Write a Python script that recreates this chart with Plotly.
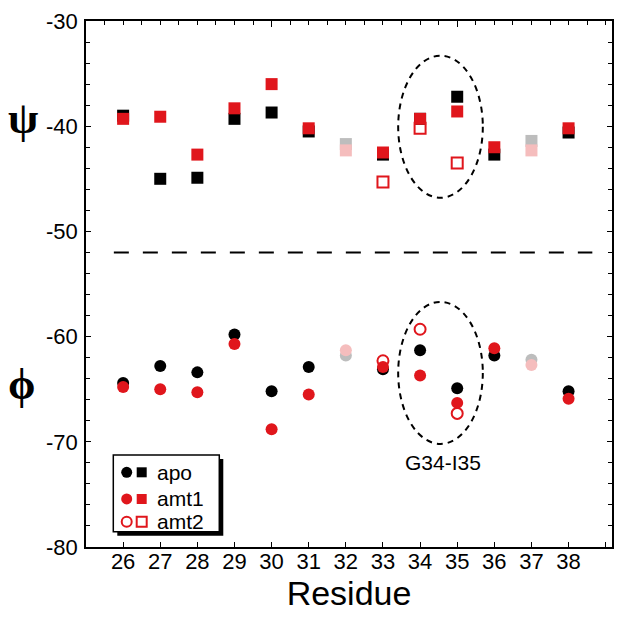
import plotly.graph_objects as go

# ---------------- data ----------------
residues = [26, 27, 28, 29, 30, 31, 32, 33, 34, 35, 36, 37, 38]
light_residues = [32, 37]

psi_apo = [-39.0, -45.0, -44.9, -39.3, -38.7, -40.5, -41.7, -42.7, -39.3, -37.2, -42.7, -41.4, -40.6]
psi_amt1 = [-39.3, -39.1, -42.7, -38.3, -36.0, -40.2, -42.3, -42.5, -39.3, -38.6, -42.0, -42.3, -40.2]
amt2_residues = [33, 34, 35]
psi_amt2 = [-45.3, -40.2, -43.5]

phi_apo = [-64.4, -62.8, -63.4, -59.8, -65.2, -62.9, -61.8, -63.1, -61.3, -64.9, -61.8, -62.2, -65.2]
phi_amt1 = [-64.8, -65.0, -65.3, -60.7, -68.8, -65.5, -61.3, -62.9, -63.7, -66.3, -61.1, -62.7, -65.9]
phi_amt2 = [-62.3, -59.3, -67.3]

x_tick_vals = list(range(26, 40))
x_tick_text = [str(v) if v <= 38 else "" for v in x_tick_vals]
y_tick_vals = [-80, -70, -60, -50, -40, -30]
y_tick_text = ["-80", "-70", "-60", "-50", "-40", "-30"]
legend_labels = ["apo", "amt1", "amt2"]
separator_y = -52
region_label = "G34-I35"

# ---------------- style ----------------
FONT = "Liberation Sans"
BLACK = "#000000"
RED = "#E0161C"
PINK = "#F5BDBD"
GRAY = "#BDBDBD"

def colors(base, light):
    return [light if r in light_residues else base for r in residues]

fig = go.Figure()

MS = 12
# psi (squares)
fig.add_trace(go.Scatter(x=residues, y=psi_apo, mode="markers",
                         marker=dict(symbol="square", size=MS, color=colors(BLACK, GRAY)), showlegend=False))
fig.add_trace(go.Scatter(x=residues, y=psi_amt1, mode="markers",
                         marker=dict(symbol="square", size=MS, color=colors(RED, PINK)), showlegend=False))
fig.add_trace(go.Scatter(x=amt2_residues, y=psi_amt2, mode="markers",
                         marker=dict(symbol="square-open", size=MS - 1, color=RED, line=dict(width=2, color=RED)),
                         showlegend=False))
# phi (circles)
fig.add_trace(go.Scatter(x=residues, y=phi_apo, mode="markers",
                         marker=dict(symbol="circle", size=MS, color=colors(BLACK, GRAY)), showlegend=False))
fig.add_trace(go.Scatter(x=residues, y=phi_amt1, mode="markers",
                         marker=dict(symbol="circle", size=MS, color=colors(RED, PINK)), showlegend=False))
fig.add_trace(go.Scatter(x=amt2_residues, y=phi_amt2, mode="markers",
                         marker=dict(symbol="circle-open", size=MS - 1, color=RED, line=dict(width=2, color=RED)),
                         showlegend=False))

# dummy trace to create top axis subplot
fig.add_trace(go.Scatter(x=[None], y=[None], xaxis="x2", yaxis="y", showlegend=False, hoverinfo="skip"))

# custom legend markers on an overlay axis in paper-like units
leg_rows = [0.142, 0.0913, 0.0481]
leg_circle_x = 0.0774
leg_square_x = 0.1059
leg_text_x = 0.131
leg_styles = [
    (BLACK, "circle", "square"),
    (RED, "circle", "square"),
    (RED, "circle-open", "square-open"),
]
for (col, cs, ss), yy in zip(leg_styles, leg_rows):
    lw = 2 if "open" in cs else 0
    fig.add_trace(go.Scatter(x=[leg_circle_x], y=[yy], xaxis="x3", yaxis="y3", mode="markers",
                             marker=dict(symbol=cs, size=11 if lw == 0 else 10, color=col, line=dict(width=lw, color=col)),
                             showlegend=False, hoverinfo="skip"))
    fig.add_trace(go.Scatter(x=[leg_square_x], y=[yy], xaxis="x3", yaxis="y3", mode="markers",
                             marker=dict(symbol=ss, size=10, color=col, line=dict(width=lw, color=col)),
                             showlegend=False, hoverinfo="skip"))

annotations = []
for lab, yy in zip(legend_labels, leg_rows):
    annotations.append(dict(x=leg_text_x, y=yy, xref="paper", yref="paper", text=lab, showarrow=False,
                            xanchor="left", yanchor="middle", font=dict(family=FONT, size=21, color="black")))
annotations.append(dict(x=34.62, y=-72.0, xref="x", yref="y", text=region_label, showarrow=False,
                        font=dict(family=FONT, size=21, color="black")))
annotations.append(dict(x=-0.12, y=-39.3, xref="paper", yref="y", text="<b>ψ</b>", showarrow=False,
                        xanchor="center", yanchor="middle",
                        font=dict(family="Liberation Serif", size=44, color="black")))
annotations.append(dict(x=-0.122, y=-64.6, xref="paper", yref="y", text="<b>ϕ</b>", showarrow=False,
                        xanchor="center", yanchor="middle",
                        font=dict(family="Liberation Serif", size=44, color="black")))

shapes = [
    # separator dashed line
    dict(type="line", xref="x", yref="y", x0=25.75, x1=38.64, y0=separator_y, y1=separator_y,
         line=dict(color="black", width=2, dash="15px,14px")),
    # ellipses
    dict(type="circle", xref="x", yref="y", x0=33.41, x1=35.69, y0=-46.8, y1=-33.3,
         line=dict(color="black", width=2, dash="6px,5px")),
    dict(type="circle", xref="x", yref="y", x0=33.41, x1=35.69, y0=-70.2, y1=-56.7,
         line=dict(color="black", width=2, dash="6px,5px")),
    # legend shadow + box
    dict(type="rect", xref="paper", yref="paper", x0=0.0595, x1=0.2610, y0=0.0215, y1=0.1673,
         fillcolor="black", line=dict(width=0), layer="below"),
    dict(type="rect", xref="paper", yref="paper", x0=0.0519, x1=0.2534, y0=0.0291, y1=0.1749,
         fillcolor="white", line=dict(color="black", width=1.5), layer="below"),
]

axis_font = dict(family=FONT, size=22, color="black")

fig.update_layout(
    width=624, height=618,
    margin=dict(l=86, r=12, t=21, b=71, autoexpand=False),
    paper_bgcolor="white", plot_bgcolor="white",
    showlegend=False,
    xaxis=dict(range=[25, 39.17], tickmode="array", tickvals=x_tick_vals, ticktext=x_tick_text,
               ticks="inside", ticklen=5, tickwidth=1, tickcolor="black", automargin=False,
               showline=True, linecolor="black", linewidth=1.5, showgrid=False, zeroline=False,
               tickfont=axis_font, ticklabelstandoff=-6,
               title=dict(text="Residue", font=dict(family=FONT, size=34, color="black"), standoff=4)),
    xaxis2=dict(range=[25, 39.17], overlaying="x", side="top", anchor="y", automargin=False,
                tickmode="linear", tick0=25, dtick=5, ticks="inside", ticklen=6, tickcolor="black",
                minor=dict(dtick=0.5, tick0=25, ticks="inside", ticklen=4, tickcolor="black", showgrid=False),
                showticklabels=False, showline=True, linecolor="black", linewidth=1.5,
                showgrid=False, zeroline=False),
    yaxis=dict(range=[-80, -30], tickmode="array", tickvals=y_tick_vals, ticktext=y_tick_text,
               ticks="inside", ticklen=5, tickcolor="black", automargin=False,
               minor=dict(dtick=2, tick0=-80, ticks="inside", ticklen=4, tickcolor="black", showgrid=False),
               showline=True, linecolor="black", linewidth=1.5, mirror="ticks",
               showgrid=False, zeroline=False, tickfont=axis_font, ticklabelstandoff=2),
    xaxis3=dict(domain=[0, 1], range=[0, 1], anchor="y3", overlaying="x", visible=False, fixedrange=True),
    yaxis3=dict(domain=[0, 1], range=[0, 1], anchor="x3", overlaying="y", visible=False, fixedrange=True),
    shapes=shapes,
    annotations=annotations,
)

fig.write_html("out.html", config={"displayModeBar": False},
               post_script="document.body.style.margin='0';document.body.style.padding='0';"
                           "document.body.style.overflow='hidden';")
